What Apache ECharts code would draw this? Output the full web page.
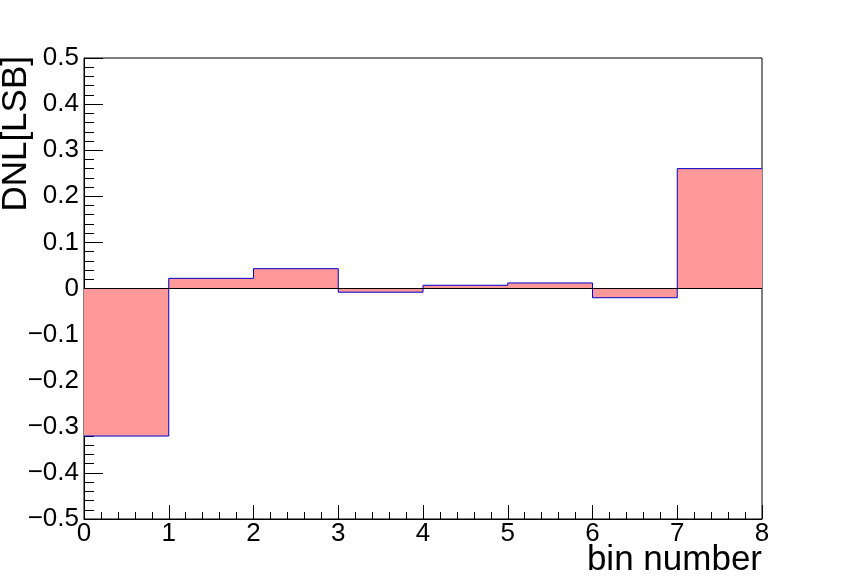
<!DOCTYPE html>
<html>
<head>
<meta charset="utf-8">
<script src="https://cdn.jsdelivr.net/npm/echarts@6/dist/echarts.min.js"></script>
<style>
    html, body { margin: 0; padding: 0; background: #fff; }
    #chart1 { width: 847px; height: 577px; }
</style>
</head>
<body>
<div id="chart1"></div>
<script>
// bin low edges and DNL value of every bin
var binEdges = [0, 1, 2, 3, 4, 5, 6, 7, 8];
var dnlValues = [-0.32, 0.022, 0.043, -0.008, 0.007, 0.012, -0.020, 0.260];
var xTitle = 'bin number';
var yTitle = 'DNL[LSB]';

var stepData = [];
for (var i = 0; i < dnlValues.length; i++) {
    stepData.push([binEdges[i], dnlValues[i]]);
}
// last point closes the last bin
stepData.push([binEdges[binEdges.length - 1], dnlValues[dnlValues.length - 1]]);

function drawChart() {
    var myChart = echarts.init(document.getElementById('chart1'));
    var font = 'Liberation Sans';

    var option = {
        animation: false,
        grid: {
            left: 84,
            top: 58,
            right: 85,
            bottom: 58,
            containLabel: false,
            outerBoundsMode: 'none',
            show: true,
            borderColor: '#000',
            borderWidth: 1
        },
        xAxis: {
            type: 'value',
            min: 0,
            max: 8,
            interval: 1,
            name: xTitle,
            nameLocation: 'end',
            nameGap: 0,
            nameMoveOverlap: false,
            nameTextStyle: {
                fontFamily: font,
                fontSize: 35,
                color: '#000',
                align: 'right',
                verticalAlign: 'top',
                padding: [24, 0, 0, 0]
            },
            axisLine: { show: true, onZero: false, lineStyle: { color: '#000', width: 1 } },
            axisTick: { show: true, inside: true, length: 14, lineStyle: { color: '#000' } },
            minorTick: { show: true, splitNumber: 5, length: 7, lineStyle: { color: '#000' } },
            splitLine: { show: false },
            axisLabel: {
                fontFamily: font,
                fontSize: 26,
                color: '#000',
                margin: 2
            }
        },
        yAxis: {
            type: 'value',
            min: -0.5,
            max: 0.5,
            interval: 0.1,
            name: yTitle,
            nameLocation: 'end',
            nameGap: 2,
            nameRotate: 90,
            nameMoveOverlap: false,
            nameTextStyle: {
                fontFamily: font,
                fontSize: 35,
                color: '#000',
                align: 'right',
                verticalAlign: 'bottom',
                padding: [0, 0, 50, 0]
            },
            axisLine: { show: true, onZero: false, lineStyle: { color: '#000', width: 1 } },
            axisTick: { show: true, inside: true, length: 19, lineStyle: { color: '#000' } },
            minorTick: { show: true, splitNumber: 5, length: 10, lineStyle: { color: '#000' } },
            splitLine: { show: false },
            axisLabel: {
                fontFamily: font,
                fontSize: 26,
                color: '#000',
                margin: 5,
                formatter: function (v) {
                    if (Math.abs(v) < 1e-9) return '0';
                    return (v < 0 ? '\u2212' : '') + Math.abs(v).toFixed(1);
                }
            }
        },
        series: [
            {
                name: 'DNL',
                type: 'line',
                step: 'end',
                symbol: 'none',
                data: stepData,
                lineStyle: { color: '#0000cc', width: 1 },
                areaStyle: { color: '#ff9999', opacity: 1 },
                // zero line across the frame
                markLine: {
                    silent: true,
                    symbol: 'none',
                    label: { show: false },
                    lineStyle: { color: '#000', width: 1, type: 'solid' },
                    data: [{ yAxis: 0 }]
                }
            }
        ]
    };
    myChart.setOption(option);
}

drawChart();
</script>
</body>
</html>
